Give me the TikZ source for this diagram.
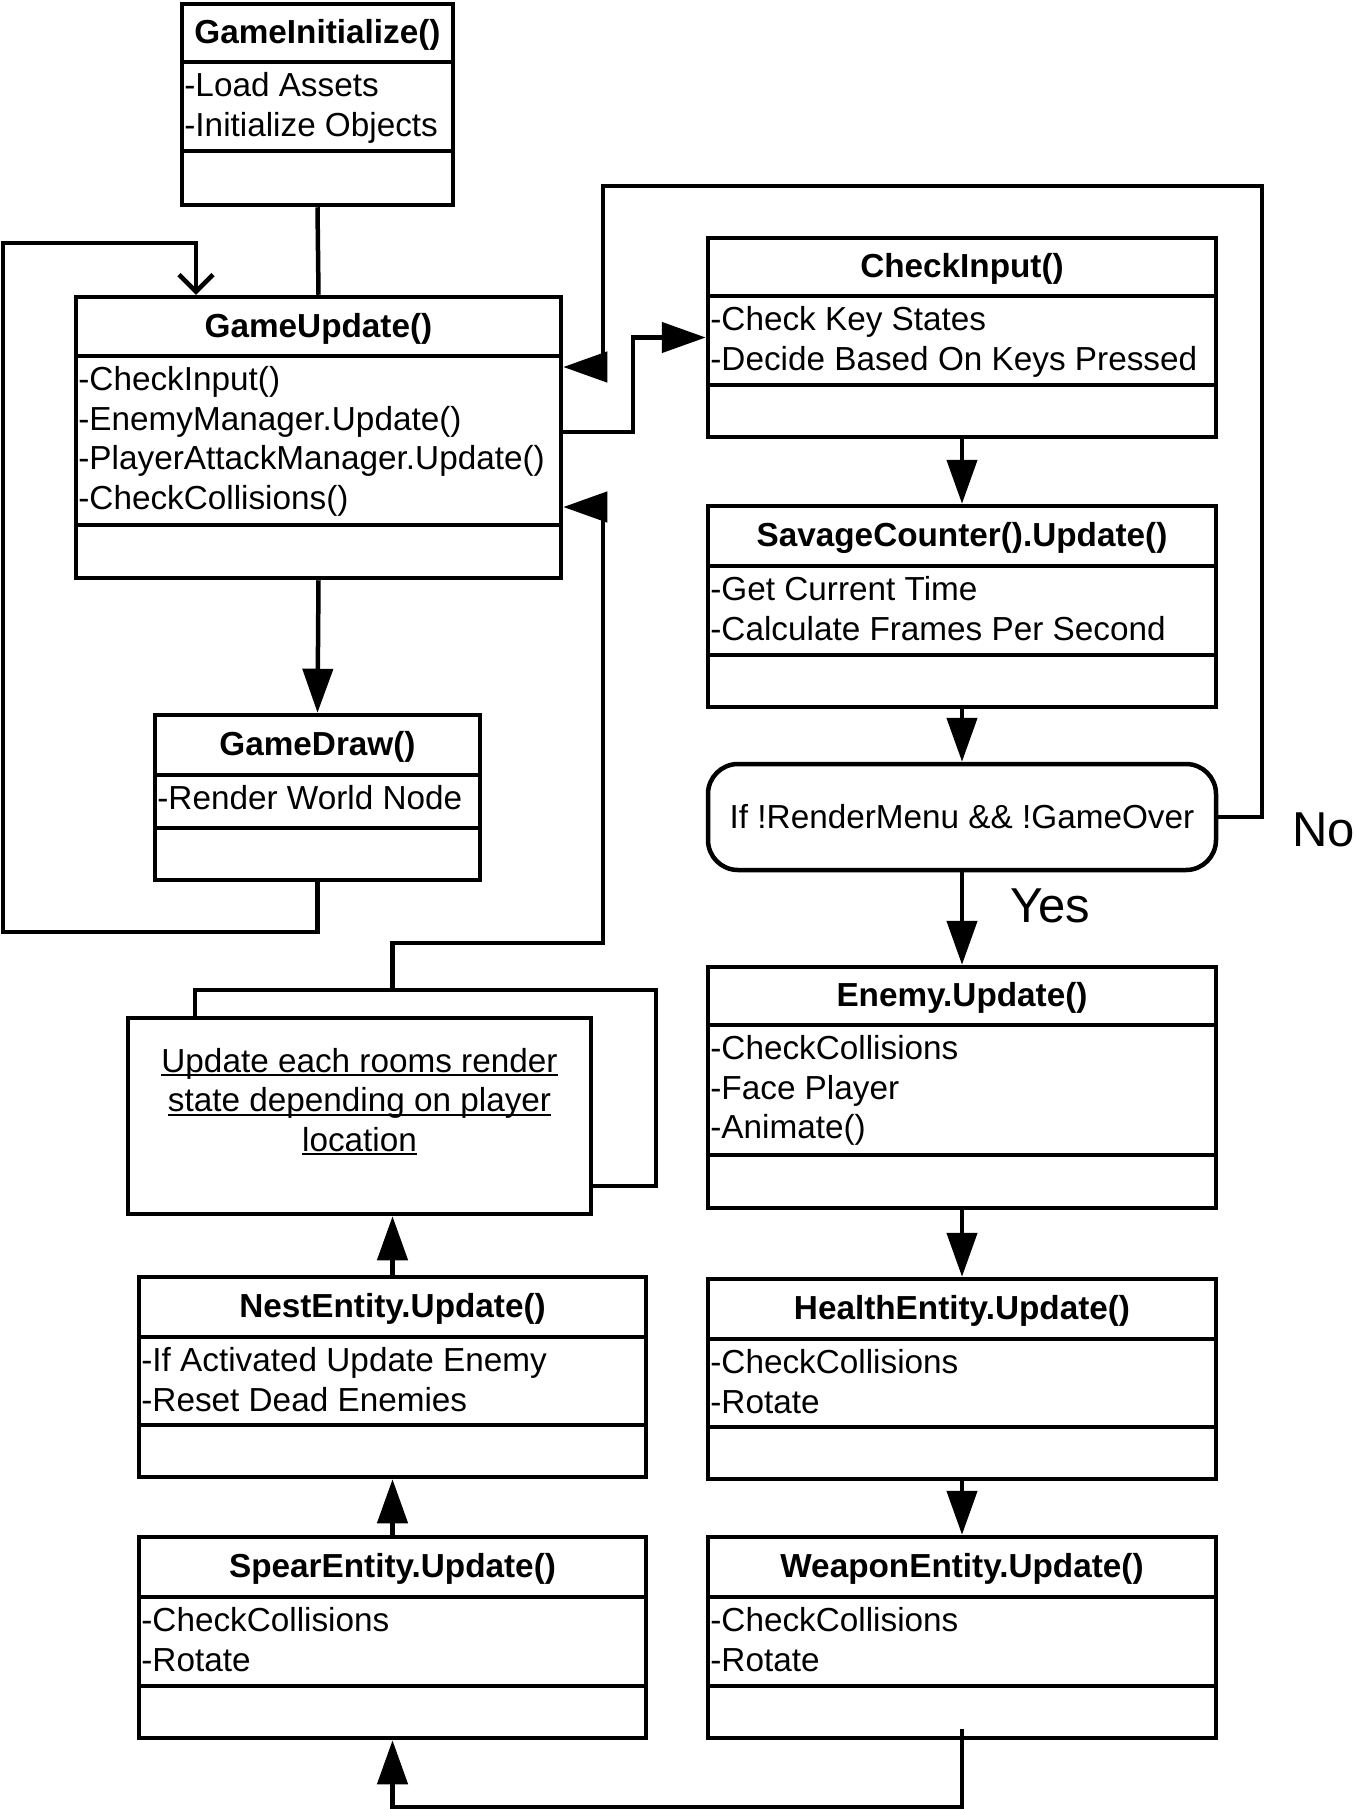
\documentclass[tikz,border=0pt]{standalone}
\usepackage{fontspec}
\setmainfont{Liberation Sans}
\usetikzlibrary{arrows.meta}

% fonts used in the boxes and for the branch labels
\newcommand\boxfont{\fontsize{16.65pt}{20pt}\selectfont}
\newcommand\bigfont{\fontsize{24.5pt}{29pt}\selectfont}
% underline at a fixed distance below the baseline
\newcommand\roomul[1]{\setbox0\hbox{#1}\rlap{\rule[-2pt]{\wd0}{1pt}}\box0}

\tikzset{
  px/.style={x=0.5pt,y=-0.5pt},
  umlframe/.style={draw, line width=2.25pt, fill=white, inner sep=0pt, rectangle},
  divider/.style={line width=2.25pt},
  wire/.style={line width=2.25pt},
  arr/.style={wire, -{Triangle[length=22pt,width=15pt]}},
  vtip/.style={wire, -{Straight Barb[length=8.5pt,width=17pt]}},
  titletext/.style={anchor=base, inner sep=0pt, font=\boxfont\bfseries},
  attrtext/.style={anchor=base west, inner sep=0pt, font=\boxfont},
  decision/.style={draw, line width=2.25pt, fill=white, rounded corners=15pt, inner sep=0pt, font=\boxfont},
  branch/.style={anchor=base west, inner sep=0pt, font=\bigfont},
  roomtext/.style={anchor=base, inner sep=0pt, font=\boxfont},
}

% class box: name, left, top, right, bottom, first divider, second divider, title
\newcommand\umlclass[8]{%
  \node[umlframe, minimum width={(#4-#2)*0.5pt}, minimum height={(#5-#3)*0.5pt}] (#1) at ({(#2+#4)/2},{(#3+#5)/2}) {};
  \draw[divider] (#2,#6) -- (#4,#6);
  \draw[divider] (#2,#7) -- (#4,#7);
  \node[titletext] (#1-title) at ({(#2+#4)/2},{(#3+#6)/2+10.5}) {#8};
}
% attribute lines: name, left, first divider, list of lines
\newcommand\umlattrs[4]{%
  \foreach \txt [count=\k from 0] in {#4}
    \node[attrtext] (#1-attr\k) at ({#2+2},{#3+34.5+\k*39.7}) {\txt};
}

\begin{document}
\begin{tikzpicture}[px]
\useasboundingbox (0,0) rectangle (1355,1810);

% ---- left column ----
\umlclass{gi}{182}{4}{453}{205}{62}{151}{GameInitialize()}
\umlattrs{gi}{182}{62}{-Load Assets,-Initialize Objects}

\umlclass{gu}{76}{297}{561}{578}{356}{525}{GameUpdate()}
\umlattrs{gu}{76}{356}{-CheckInput(),-EnemyManager.Update(),-PlayerAttackManager.Update(),-CheckCollisions()}

\umlclass{gd}{155}{715}{480}{880}{775}{828}{GameDraw()}
\umlattrs{gd}{155}{775}{-Render World Node}

% stacked room-update box
\node[umlframe, minimum width={(656-195)*0.5pt}, minimum height={(1186-990)*0.5pt}] (roomsback) at ({(195+656)/2},{(990+1186)/2}) {};
\node[umlframe, minimum width={(591-128)*0.5pt}, minimum height={(1214-1018)*0.5pt}] (rooms) at ({(128+591)/2},{(1018+1214)/2}) {};
\node[roomtext] (rooms-l1) at (359.5,1072) {\roomul{Update each rooms render}};
\node[roomtext] (rooms-l2) at (359.5,1111.5) {\roomul{state depending on player}};
\node[roomtext] (rooms-l3) at (359.5,1151) {\roomul{location}};

\umlclass{nest}{139}{1277}{646}{1477}{1337}{1425}{NestEntity.Update()}
\umlattrs{nest}{139}{1337}{-If Activated Update Enemy,-Reset Dead Enemies}

\umlclass{spear}{139}{1537}{646}{1738}{1597}{1686}{SpearEntity.Update()}
\umlattrs{spear}{139}{1597}{-CheckCollisions,-Rotate}

% ---- right column ----
\umlclass{ci}{708}{238}{1216}{437}{296}{385}{CheckInput()}
\umlattrs{ci}{708}{296}{-Check Key States,-Decide Based On Keys Pressed}

\umlclass{sc}{708}{506}{1216}{707}{566}{655}{SavageCounter().Update()}
\umlattrs{sc}{708}{566}{-Get Current Time,-Calculate Frames Per Second}

\node[decision, minimum width=254pt, minimum height=53pt] (dec) at (962,817) {If !RenderMenu \&\& !GameOver};

\umlclass{en}{708}{967}{1216}{1208}{1025}{1155}{Enemy.Update()}
\umlattrs{en}{708}{1025}{-CheckCollisions,-Face Player,-Animate()}

\umlclass{he}{708}{1279}{1216}{1479}{1339}{1427}{HealthEntity.Update()}
\umlattrs{he}{708}{1339}{-CheckCollisions,-Rotate}

\umlclass{wp}{708}{1537}{1216}{1738}{1597}{1686}{WeaponEntity.Update()}
\umlattrs{wp}{708}{1597}{-CheckCollisions,-Rotate}

% ---- connectors ----
\draw[wire] (gi.south) -- (gu.north);
\draw[arr] (gu.south) -- (gd.north);
\draw[vtip] (gd.south) |- (3,932) |- (196,243) -- (196,0 |- gu.north);

\draw[arr] (gu.east |- 0,432) -- (633,432) |- (ci.west);
\draw[arr] (dec.east) -- (1262,817) |- (603,186) |- (gu.east |- 0,367);
\draw[arr] (nest.north |- roomsback.north) |- (603,943) |- (gu.east |- 0,507);

\draw[arr] (ci.south) -- (sc.north);
\draw[arr] (sc.south) -- (dec.north);
\draw[arr] (dec.south) -- (en.north);
\draw[arr] (en.south) -- (he.north);
\draw[arr] (he.south) -- (wp.north);

\coordinate (wpin) at ([yshift=5.5pt]wp.south);
\draw[arr] (wpin) -- (wpin |- 0,1807) -| (spear.south);
\draw[arr] (spear.north) -- (nest.south);
\draw[arr] (nest.north) -- (nest.north |- rooms.south);

% branch labels
\node[branch] (yes) at (1010,922) {Yes};
\node[branch] (no) at (1292,846) {No};
\end{tikzpicture}
\end{document}
